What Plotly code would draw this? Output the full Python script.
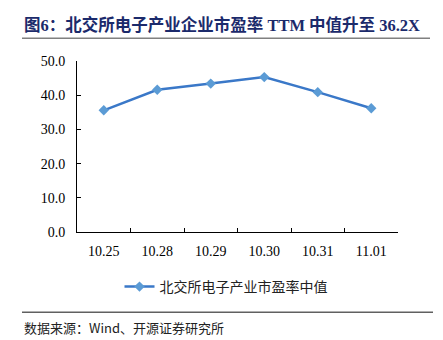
import plotly.graph_objects as go

categories = ["10.25", "10.28", "10.29", "10.30", "10.31", "11.01"]
pe_median = [35.6, 41.6, 43.4, 45.3, 40.9, 36.2]
y_ticks = [0, 10, 20, 30, 40, 50]
y_tick_labels = ["0.0", "10.0", "20.0", "30.0", "40.0", "50.0"]

title_text = "图6：北交所电子产业企业市盈率 TTM 中值升至 36.2X"
series_name = "北交所电子产业市盈率中值"
source_text = "数据来源：Wind、开源证券研究所"

FONT = "Liberation Serif, Noto Sans CJK SC, serif"

fig = go.Figure()
fig.add_trace(go.Scatter(
    x=categories, y=pe_median, mode="lines+markers", name=series_name,
    line=dict(color="#3A78C8", width=2.5),
    marker=dict(symbol="diamond", size=8, color="#5B9BD5"),
))

fig.update_layout(
    width=443, height=340,
    margin=dict(l=77, r=45, t=61, b=106),
    paper_bgcolor="white", plot_bgcolor="white",
    font=dict(family=FONT, size=14, color="#000000"),
    showlegend=True,
    legend=dict(orientation="h", x=(226 - 77) / 321, xanchor="center", xref="paper",
                y=1 - 287/340, yref="container", yanchor="middle",
                font=dict(family="Noto Sans CJK SC, sans-serif", size=14, color="#222222"),
                itemwidth=30),
    xaxis=dict(type="category", range=[-0.5, 5.5], tickson="boundaries",
               ticks="inside", ticklen=4, tickcolor="#000", showline=True,
               linecolor="#000", linewidth=1, showgrid=False, zeroline=False,
               ticklabelstandoff=6,
               tickfont=dict(family=FONT, size=14)),
    yaxis=dict(range=[0, 50], tickvals=y_ticks, ticktext=y_tick_labels,
               ticks="inside", ticklen=4, tickcolor="#000", showline=True,
               linecolor="#000", linewidth=1, showgrid=False, zeroline=False,
               ticklabelstandoff=8,
               tickfont=dict(family=FONT, size=14)),
)

fig.add_annotation(text="<b>" + title_text + "</b>", xref="paper", yref="paper",
                   x=-55/321, y=1 + 36/173, xanchor="left", yanchor="middle",
                   showarrow=False,
                   font=dict(family=FONT, size=16.5, color="#1B2A6B"))
fig.add_shape(type="line", xref="paper", yref="paper",
              x0=-55/321, x1=353/321, y0=1 + 23/173, y1=1 + 23/173,
              line=dict(color="#808080", width=1.5))
fig.add_shape(type="line", xref="paper", yref="paper",
              x0=-55/321, x1=356/321, y0=-81/173, y1=-81/173,
              line=dict(color="#606060", width=1.5))
fig.add_annotation(text=source_text, xref="paper", yref="paper",
                   x=-55/321, y=-96/173, xanchor="left", yanchor="middle",
                   showarrow=False,
                   font=dict(family="Noto Sans CJK SC, sans-serif", size=13, color="#222222"))

fig.write_html("out.html")
